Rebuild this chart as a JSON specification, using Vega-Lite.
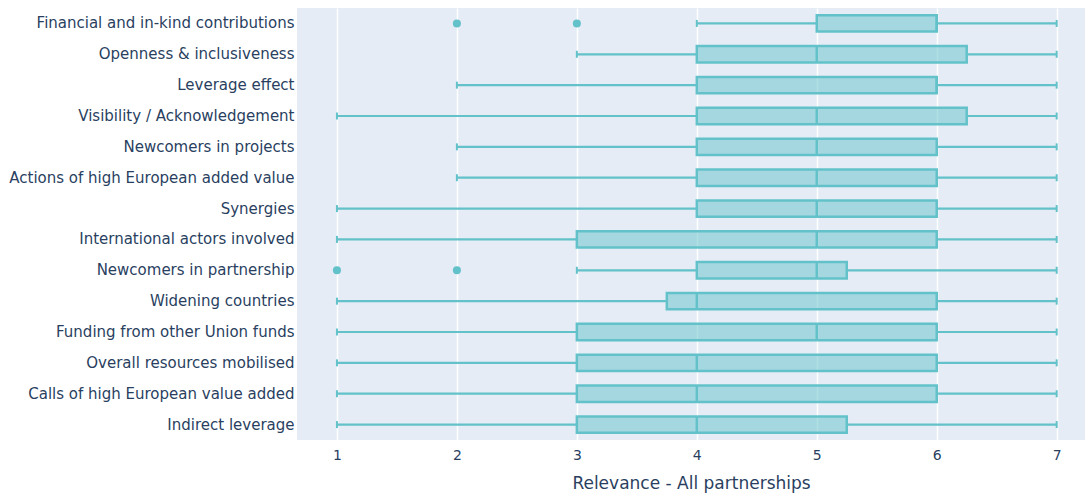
{
  "$schema": "https://vega.github.io/schema/vega-lite/v6.json",
  "autosize": {"type": "none"},
  "width": 788,
  "height": 432,
  "padding": {"left": 297, "top": 8, "right": 0, "bottom": 57},
  "background": "white",
  "config": {
    "view": {"fill": "#e5ecf6", "stroke": null},
    "font": "DejaVu Sans"
  },
  "datasets": {
    "boxes": [
      {"item": "Financial and in-kind contributions", "min": 4, "q1": 5, "median": 6, "q3": 6, "max": 7},
      {"item": "Openness & inclusiveness", "min": 3, "q1": 4, "median": 5, "q3": 6.25, "max": 7},
      {"item": "Leverage effect", "min": 2, "q1": 4, "median": 6, "q3": 6, "max": 7},
      {"item": "Visibility / Acknowledgement ", "min": 1, "q1": 4, "median": 5, "q3": 6.25, "max": 7},
      {"item": "Newcomers in projects", "min": 2, "q1": 4, "median": 5, "q3": 6, "max": 7},
      {"item": "Actions of high European added value", "min": 2, "q1": 4, "median": 5, "q3": 6, "max": 7},
      {"item": "Synergies", "min": 1, "q1": 4, "median": 5, "q3": 6, "max": 7},
      {"item": "International actors involved", "min": 1, "q1": 3, "median": 5, "q3": 6, "max": 7},
      {"item": "Newcomers in partnership", "min": 3, "q1": 4, "median": 5, "q3": 5.25, "max": 7},
      {"item": "Widening countries", "min": 1, "q1": 3.75, "median": 4, "q3": 6, "max": 7},
      {"item": "Funding from other Union funds", "min": 1, "q1": 3, "median": 5, "q3": 6, "max": 7},
      {"item": "Overall resources mobilised", "min": 1, "q1": 3, "median": 4, "q3": 6, "max": 7},
      {"item": "Calls of high European value added", "min": 1, "q1": 3, "median": 4, "q3": 6, "max": 7},
      {"item": "Indirect leverage", "min": 1, "q1": 3, "median": 4, "q3": 5.25, "max": 7}
    ],
    "outliers": [
      {"item": "Financial and in-kind contributions", "value": 2},
      {"item": "Financial and in-kind contributions", "value": 3},
      {"item": "Newcomers in partnership", "value": 1},
      {"item": "Newcomers in partnership", "value": 2}
    ]
  },
  "encoding": {
    "y": {
      "field": "item",
      "type": "nominal",
      "sort": null,
      "scale": {"paddingInner": 0, "paddingOuter": 0},
      "axis": {
        "title": null,
        "domain": false,
        "ticks": false,
        "grid": false,
        "labelFontSize": 15,
        "labelColor": "#2a3f5f",
        "labelPadding": 3,
        "labelLimit": 400
      }
    }
  },
  "layer": [
    {
      "data": {"name": "boxes"},
      "mark": {"type": "rule", "color": "#63c2c9", "strokeWidth": 2.2},
      "encoding": {
        "x": {
          "field": "min",
          "type": "quantitative",
          "scale": {"domain": [0.667, 7.236], "nice": false, "zero": false},
          "axis": {
            "title": "Relevance - All partnerships",
            "titleFontSize": 17,
            "titleFontWeight": "normal",
            "titleColor": "#2a3f5f",
            "titlePadding": 13,
            "values": [1, 2, 3, 4, 5, 6, 7],
            "format": "d",
            "labelFontSize": 14,
            "labelColor": "#2a3f5f",
            "labelPadding": 8,
            "domain": false,
            "ticks": false,
            "grid": true,
            "gridColor": "white",
            "gridWidth": 1.5
          }
        },
        "x2": {"field": "q1"}
      }
    },
    {
      "data": {"name": "boxes"},
      "mark": {"type": "rule", "color": "#63c2c9", "strokeWidth": 2.2},
      "encoding": {
        "x": {"field": "q3", "type": "quantitative"},
        "x2": {"field": "max"}
      }
    },
    {
      "data": {"name": "boxes"},
      "mark": {"type": "tick", "color": "#63c2c9", "orient": "vertical", "size": 7, "thickness": 2, "opacity": 1},
      "encoding": {
        "x": {"field": "min", "type": "quantitative"}
      }
    },
    {
      "data": {"name": "boxes"},
      "mark": {"type": "tick", "color": "#63c2c9", "orient": "vertical", "size": 7, "thickness": 2, "opacity": 1},
      "encoding": {
        "x": {"field": "max", "type": "quantitative"}
      }
    },
    {
      "data": {"name": "boxes"},
      "mark": {"type": "bar", "fill": "#63c2c9", "fillOpacity": 0.5, "stroke": "#63c2c9", "strokeWidth": 2.5, "height": {"band": 0.53}},
      "encoding": {
        "x": {"field": "q1", "type": "quantitative"},
        "x2": {"field": "q3"}
      }
    },
    {
      "data": {"name": "boxes"},
      "mark": {"type": "tick", "color": "#63c2c9", "orient": "vertical", "size": 17, "thickness": 2.5, "opacity": 1},
      "encoding": {
        "x": {"field": "median", "type": "quantitative"}
      }
    },
    {
      "data": {"name": "outliers"},
      "mark": {"type": "circle", "color": "#63c2c9", "size": 65, "opacity": 1},
      "encoding": {
        "x": {"field": "value", "type": "quantitative"}
      }
    }
  ]
}
